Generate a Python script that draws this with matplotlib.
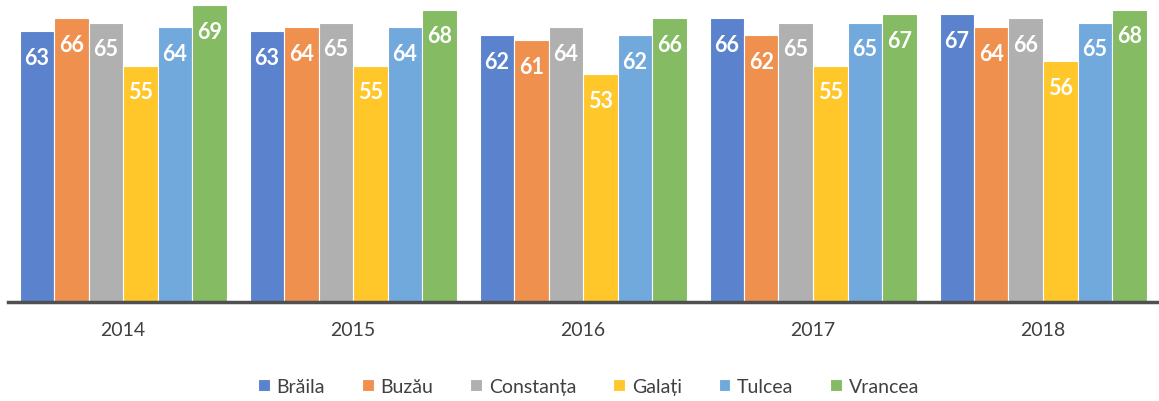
import numpy as np
import matplotlib
matplotlib.use('Agg')
from matplotlib import pyplot as plt

years = ['2014', '2015', '2016', '2017', '2018']
regions = ['Brăila', 'Buzău', 'Constanța', 'Galați', 'Tulcea', 'Vrancea']

braila = [63, 63, 62, 66, 67]
buzau = [66, 64, 61, 62, 64]
constanta = [65, 65, 64, 65, 66]
galati = [55, 55, 53, 55, 56]
tulcea = [64, 64, 62, 65, 65]
vrancea = [69, 68, 66, 67, 68]

series = [braila, buzau, constanta, galati, tulcea, vrancea]
colors = ['#5B82CD', '#F0904F', '#B0B0B0', '#FFC72A', '#72A9DC', '#84BB63']

plt.rcParams['font.family'] = ['Lato', 'DejaVu Sans']

fig = plt.figure(figsize=(11.59, 4.02), dpi=100)
ax = fig.add_axes([8 / 1159, 99 / 402, 1150 / 1159, 301 / 402])

x = np.arange(len(years))
w = 0.15
for i, (name, vals) in enumerate(zip(regions, series)):
    pos = x + (i - 2.5) * w
    bars = ax.bar(pos, vals, width=w, color=colors[i], edgecolor='#ffffff',
                  linewidth=0.8, label=name)
    for b, v in zip(bars, vals):
        ax.annotate(str(v), (b.get_x() + b.get_width() / 2, v),
                    xytext=(0, -19), textcoords='offset points',
                    ha='center', va='center', color='white',
                    fontsize=15.5, fontweight='bold')

ax.set_xlim(-0.5, len(years) - 0.5)
ax.set_ylim(0, 70)
ax.set_xticks(x)
ax.set_xticklabels(years, fontsize=14, color='#404040')
ax.tick_params(axis='x', length=0, pad=14)
ax.set_yticks([])
for s in ['top', 'left', 'right']:
    ax.spines[s].set_visible(False)
ax.spines['bottom'].set_color('#505050')
ax.spines['bottom'].set_linewidth(2.5)

fig.legend(loc='center', bbox_to_anchor=(0.508, 0.037), ncol=6, frameon=False,
           fontsize=14, handlelength=0.6, handleheight=0.6, handletextpad=0.35,
           columnspacing=1.9, labelcolor='#404040')

fig.savefig('out.png', dpi=100)
